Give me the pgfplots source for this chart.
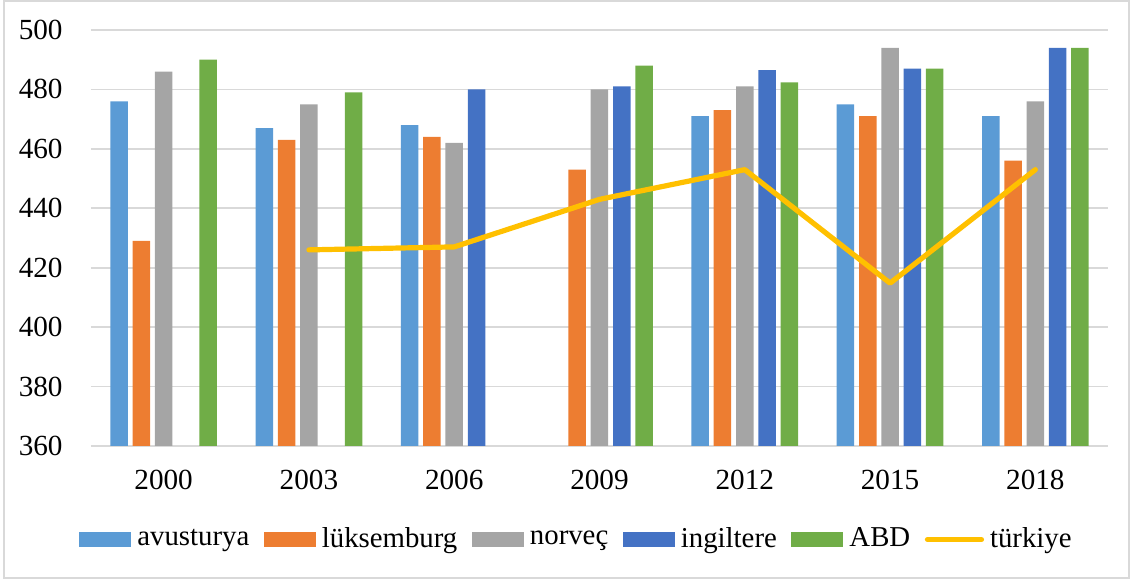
\documentclass[border=0pt]{standalone}
\usepackage{fontspec}
\setmainfont{Liberation Serif}
\usepackage{pgfplots}
\pgfplotsset{compat=1.18}
\definecolor{cA}{HTML}{5B9BD5}
\definecolor{cL}{HTML}{ED7D31}
\definecolor{cN}{HTML}{A5A5A5}
\definecolor{cI}{HTML}{4472C4}
\definecolor{cU}{HTML}{70AD47}
\definecolor{cT}{HTML}{FFC000}
\definecolor{gridc}{HTML}{D9D9D9}
\begin{document}
\fontsize{14.6}{17}\selectfont
\begin{tikzpicture}
\path (0,0) rectangle (566pt,290.5pt);
\draw[color=gridc, line width=0.75pt] (2pt,1.5pt) rectangle (564.5pt,290pt);
\begin{axis}[
  at={(45.5pt,67.5pt)}, anchor=south west,
  width=508.5pt, height=208pt, scale only axis,
  xmin=-0.5, xmax=6.5, ymin=360, ymax=500,
  ytick={360,380,...,500},
  xtick={0,...,6},
  xticklabels={2000,2003,2006,2009,2012,2015,2018},
  ymajorgrids, grid style={gridc, line width=0.8pt},
  axis line style={draw=none},
  major tick length=0pt,
  tick label style={font=\fontsize{14.6}{17}\selectfont, inner sep=0pt},
  yticklabel style={xshift=-14pt},
  xticklabel style={yshift=-11.75pt},
  /pgf/number format/assume math mode=true,
  legend columns=6,
  legend style={at={(0.4764,-0.225)}, anchor=center, draw=none, fill=none,
    inner sep=0pt, nodes={inner sep=0pt}, font=\fontsize{14.4}{17}\selectfont,
    /tikz/every even column/.append style={column sep=7.3pt},
    /tikz/every odd column/.append style={column sep=3pt}},
  legend cell align=left,
]
\addplot[ybar, bar width=8.75pt, bar shift=-22.3pt, fill=cA, draw=none,
  legend image code/.code={\fill[cA] (0pt,-3.75pt) rectangle (26pt,3.75pt);}]
  coordinates {(0,476) (1,467) (2,468) (4,471) (5,475) (6,471)};
\addlegendentry{avusturya}
\addplot[ybar, bar width=8.75pt, bar shift=-11.15pt, fill=cL, draw=none,
  legend image code/.code={\fill[cL] (0pt,-3.75pt) rectangle (26pt,3.75pt);}]
  coordinates {(0,429) (1,463) (2,464) (3,453) (4,473) (5,471) (6,456)};
\addlegendentry{lüksemburg}
\addplot[ybar, bar width=8.75pt, bar shift=0pt, fill=cN, draw=none,
  legend image code/.code={\fill[cN] (0pt,-3.75pt) rectangle (26pt,3.75pt);}]
  coordinates {(0,486) (1,475) (2,462) (3,480) (4,481) (5,494) (6,476)};
\addlegendentry{norveç}
\addplot[ybar, bar width=8.75pt, bar shift=11.15pt, fill=cI, draw=none,
  legend image code/.code={\fill[cI] (0pt,-3.75pt) rectangle (26pt,3.75pt);}]
  coordinates {(2,480) (3,481) (4,486.5) (5,487) (6,494)};
\addlegendentry{ingiltere}
\addplot[ybar, bar width=8.75pt, bar shift=22.3pt, fill=cU, draw=none,
  legend image code/.code={\fill[cU] (0pt,-3.75pt) rectangle (26pt,3.75pt);}]
  coordinates {(0,490) (1,479) (3,488) (4,482.4) (5,487) (6,494)};
\addlegendentry{ABD}
\addplot[cT, line width=2.6pt, line join=round, line cap=round, mark=none,
  legend image code/.code={\draw[cT, line width=2.6pt, line cap=round] (0pt,0pt) -- (27pt,0pt);}]
  coordinates {(1,426) (2,427) (3,443) (4,453) (5,414.8) (6,453)};
\addlegendentry{türkiye}
\end{axis}
\end{tikzpicture}
\end{document}
